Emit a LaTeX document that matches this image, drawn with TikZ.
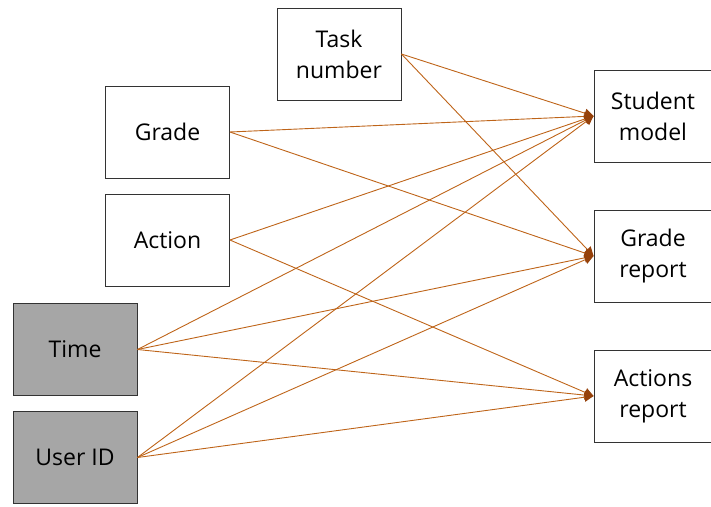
\documentclass[tikz,border=0pt]{standalone}
\usepackage{fontspec}
\setmainfont{Open Sans}
\usetikzlibrary{arrows.meta}
\definecolor{linkc}{RGB}{190,100,25}
\definecolor{tipc}{RGB}{150,65,10}
\definecolor{grayfill}{RGB}{166,166,166}
\begin{document}
\begin{tikzpicture}[x=1pt,y=-1pt,
  box/.style={draw=black!80, line width=0.9pt, fill=white, minimum width=124pt, minimum height=92pt, inner sep=0pt, align=center, font=\fontsize{23}{31}\selectfont},
  graybox/.style={box, fill=grayfill},
  link/.style={draw=linkc, line width=0.9pt, -{Triangle[length=9pt,width=9pt,fill=tipc,color=tipc]}}]
\useasboundingbox (0,0) rectangle (711,506);
\node[box] (task) at (339,54) {Task\\number};
\node[box] (grade) at (167.5,132) {Grade};
\node[box] (action) at (167.5,240) {Action};
\node[graybox] (time) at (75,349.5) {Time};
\node[graybox] (user) at (75,457.5) {User ID};
\node[box, minimum width=118pt] (sm) at (653,116) {Student\\model};
\node[box, minimum width=118pt] (gr) at (653,256) {Grade\\report};
\node[box, minimum width=118pt] (ar) at (653,396) {Actions\\report};
\draw[link] (task.east) -- (sm.west);
\draw[link] (task.east) -- (gr.west);
\draw[link] (grade.east) -- (sm.west);
\draw[link] (grade.east) -- (gr.west);
\draw[link] (action.east) -- (sm.west);
\draw[link] (action.east) -- (ar.west);
\draw[link] (time.east) -- (sm.west);
\draw[link] (time.east) -- (gr.west);
\draw[link] (time.east) -- (ar.west);
\draw[link] (user.east) -- (sm.west);
\draw[link] (user.east) -- (gr.west);
\draw[link] (user.east) -- (ar.west);
\end{tikzpicture}
\end{document}
